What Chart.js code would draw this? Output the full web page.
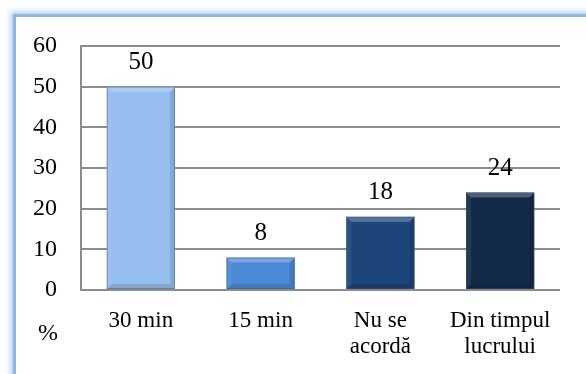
<!DOCTYPE html>
<html>
<head>
<meta charset="utf-8">
<script src="https://cdn.jsdelivr.net/npm/chart.js@4/dist/chart.umd.min.js"></script>
<style>
  html, body { margin: 0; padding: 0; background: #ffffff; overflow: hidden; }
  #wrap { position: relative; width: 586px; height: 374px; }
  #frame {
    position: absolute; left: 13px; top: 14px; width: 640px; height: 420px;
    border-left: 3px solid #8FB5E4; border-top: 3px solid #8FB5E4;
    box-shadow: 0 0 6px 2px rgba(143,181,228,0.75);
    background: #ffffff;
  }
  canvas { position: absolute; left: 0; top: 0; }
</style>
</head>
<body>
<div id="wrap">
  <div id="frame"></div>
  <canvas id="chart" width="586" height="374"></canvas>
</div>
<script>
// Break time categories and the share of respondents (%) for each
const categories = [['30 min'], ['15 min'], ['Nu se', 'acordă'], ['Din timpul', 'lucrului']];
const percentages = [50, 8, 18, 24];
const barColors = ['#95BDEE', '#4C8AD6', '#1E4579', '#142A49'];
const yTicks = [0, 10, 20, 30, 40, 50, 60];
const unitLabel = '%';

const serif = "'Liberation Serif', 'Times New Roman', serif";

// Soft bevel drawn on top of each bar element
const bevelPlugin = {
  id: 'bevel',
  afterDatasetsDraw(chart) {
    const ctx = chart.ctx;
    const meta = chart.getDatasetMeta(0);
    meta.data.forEach((bar) => {
      const l = bar.x - bar.width / 2, r = bar.x + bar.width / 2;
      const t = bar.y, b = bar.base;
      const s = Math.min(5, (b - t) / 3);
      ctx.save();
      // top facet (light)
      ctx.fillStyle = 'rgba(255,255,255,0.25)';
      ctx.beginPath();
      ctx.moveTo(l, t); ctx.lineTo(r, t); ctx.lineTo(r - s, t + s); ctx.lineTo(l + s, t + s); ctx.closePath();
      ctx.fill();
      // left facet
      ctx.fillStyle = 'rgba(255,255,255,0.07)';
      ctx.beginPath();
      ctx.moveTo(l, t); ctx.lineTo(l + s, t + s); ctx.lineTo(l + s, b - s); ctx.lineTo(l, b); ctx.closePath();
      ctx.fill();
      // right facet
      ctx.fillStyle = 'rgba(0,0,0,0.10)';
      ctx.beginPath();
      ctx.moveTo(r, t); ctx.lineTo(r - s, t + s); ctx.lineTo(r - s, b - s); ctx.lineTo(r, b); ctx.closePath();
      ctx.fill();
      // bottom facet
      ctx.fillStyle = 'rgba(0,0,0,0.12)';
      ctx.beginPath();
      ctx.moveTo(l, b); ctx.lineTo(l + s, b - s); ctx.lineTo(r - s, b - s); ctx.lineTo(r, b); ctx.closePath();
      ctx.fill();
      // thin edge
      ctx.strokeStyle = 'rgba(60,80,110,0.45)';
      ctx.lineWidth = 1;
      ctx.strokeRect(l + 0.5, t + 0.5, r - l - 1, b - t - 1);
      ctx.restore();
    });
  }
};

// Value labels above each bar and the unit label under the value axis
const labelPlugin = {
  id: 'valueLabels',
  afterDraw(chart) {
    const ctx = chart.ctx;
    const meta = chart.getDatasetMeta(0);
    ctx.save();
    ctx.fillStyle = '#000000';
    ctx.font = '25px ' + serif;
    ctx.textAlign = 'center';
    ctx.textBaseline = 'middle';
    meta.data.forEach((bar, i) => {
      ctx.fillText(String(percentages[i]), bar.x, bar.y - 24);
    });
    ctx.font = '24px ' + serif;
    ctx.textAlign = 'right';
    ctx.fillText(unitLabel, 58, 334);
    ctx.restore();
  }
};

new Chart(document.getElementById('chart'), {
  type: 'bar',
  data: {
    labels: categories,
    datasets: [{
      data: percentages,
      backgroundColor: barColors,
      borderWidth: 0,
      barPercentage: 0.57,
      categoryPercentage: 1.0
    }]
  },
  options: {
    responsive: false,
    animation: false,
    events: [],
    layout: { padding: { left: 0, top: 46, right: 26, bottom: 0 } },
    plugins: { legend: { display: false }, tooltip: { enabled: false } },
    scales: {
      x: {
        grid: { display: false, drawTicks: false },
        border: { display: false },
        ticks: {
          color: '#000000',
          font: { family: serif, size: 23, lineHeight: 1.13 },
          padding: 18,
          maxRotation: 0,
          autoSkip: false
        },
        afterFit(scale) { scale.height = 84; }
      },
      y: {
        min: 0,
        max: 60,
        afterBuildTicks(scale) { scale.ticks = yTicks.map(v => ({ value: v })); },
        grid: { color: '#8C8C8C', lineWidth: 2, drawTicks: false },
        border: { display: true, color: '#8C8C8C', width: 2 },
        ticks: {
          color: '#000000',
          font: { family: serif, size: 24 },
          padding: 24
        },
        afterFit(scale) { scale.width = 81; }
      }
    }
  },
  plugins: [bevelPlugin, labelPlugin]
});
</script>
</body>
</html>
